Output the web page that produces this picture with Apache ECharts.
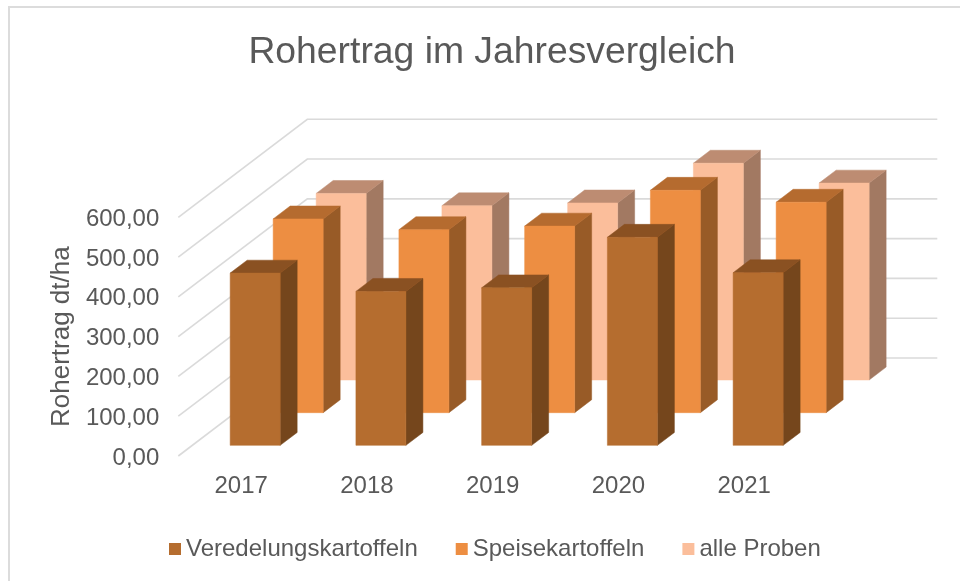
<!DOCTYPE html>
<html>
<head>
<meta charset="utf-8">
<title>Rohertrag im Jahresvergleich</title>
<script src="https://cdn.jsdelivr.net/npm/echarts@6/dist/echarts.min.js"></script>
<style>
  html, body { margin: 0; padding: 0; background: #fff; }
  #chart { width: 960px; height: 581px; }
</style>
</head>
<body>
<div id="chart"></div>
<script>
const categories = ['2017', '2018', '2019', '2020', '2021']
const yTicks = [0, 100, 200, 300, 400, 500, 600]
const veredelung = [433, 387, 396, 523, 434]
const speise = [487, 460, 469, 559, 529]
const alleProben = [469, 438, 445, 545, 495]

const FONT = '"Liberation Sans", Arial, sans-serif'
const TEXT = '#595959'
const SLOPE = 0.76 // fake 3d: how far up per pixel of depth
const DEPTH = 129
const BAR_WIDTH = 50
const BAR_DEPTH = 17

function shift(p, d) {
  return [p[0] + d, p[1] - d * SLOPE]
}

function barItem(rowOffset, colors) {
  return function(params, api) {
    const i = api.value(0)
    const top = api.coord([i, api.value(1)])
    const base = api.coord([i, 0])
    const x0 = top[0] - BAR_WIDTH / 2
    const x1 = top[0] + BAR_WIDTH / 2
    const tl = shift([x0, top[1]], rowOffset)
    const tr = shift([x1, top[1]], rowOffset)
    const bl = shift([x0, base[1]], rowOffset)
    const br = shift([x1, base[1]], rowOffset)
    const poly = function(points, color) {
      return {
        type: 'polygon',
        shape: { points: points },
        style: { fill: color, stroke: color, lineWidth: 0.5 }
      }
    }
    return {
      type: 'group',
      children: [
        poly([tr, shift(tr, BAR_DEPTH), shift(br, BAR_DEPTH), br], colors[1]),
        poly([tl, shift(tl, BAR_DEPTH), shift(tr, BAR_DEPTH), tr], colors[2]),
        poly([tl, tr, br, bl], colors[0])
      ]
    }
  }
}

function wallItem(params, api) {
  const p = api.coord([0, api.value(1)])
  const band = api.size([1, 0])[0]
  const front = [p[0] - band / 2, p[1]]
  const corner = shift(front, DEPTH)
  const end = [corner[0] + band * categories.length + 1.3, corner[1]]
  return {
    type: 'polyline',
    shape: { points: [front, corner, end] },
    style: { fill: 'none', stroke: '#DADADA', lineWidth: 1.6 }
  }
}

function makeBars(name, values, rowOffset, colors, z) {
  return {
    name: name,
    type: 'custom',
    z: z,
    silent: true,
    itemStyle: { color: colors[0] },
    renderItem: barItem(rowOffset, colors),
    data: values.map(function(v, i) { return [i, v] })
  }
}

const chart = echarts.init(document.getElementById('chart'))
chart.setOption({
  animation: false,
  backgroundColor: '#fff',
  textStyle: { fontFamily: FONT },
  title: {
    text: 'Rohertrag im Jahresvergleich',
    left: 487,
    top: 29,
    textAlign: 'center',
    textStyle: { color: TEXT, fontSize: 37.3, fontWeight: 'normal', fontFamily: FONT }
  },
  legend: {
    left: 164,
    top: 532,
    itemWidth: 12,
    itemHeight: 12,
    itemGap: 38,
    icon: 'rect',
    data: ['Veredelungskartoffeln', 'Speisekartoffeln', 'alle Proben'],
    textStyle: { color: TEXT, fontSize: 24, fontFamily: FONT }
  },
  grid: { left: 178.3, right: 153, top: 217.3, bottom: 125 },
  xAxis: {
    type: 'category',
    data: categories,
    axisLine: { show: false },
    axisTick: { show: false },
    axisLabel: { color: TEXT, fontSize: 24, margin: 18, fontFamily: FONT }
  },
  yAxis: {
    type: 'value',
    min: 0,
    max: 600,
    interval: 100,
    name: 'Rohertrag dt/ha',
    nameLocation: 'middle',
    nameGap: 101,
    nameTextStyle: { color: TEXT, fontSize: 26, fontFamily: FONT },
    axisLine: { show: false },
    axisTick: { show: false },
    splitLine: { show: false },
    axisLabel: {
      margin: 19,
      formatter: function(value) {
        return '{tick|' + value.toFixed(2).replace('.', ',') + '}'
      },
      rich: {
        tick: { color: TEXT, fontSize: 24, fontFamily: FONT, padding: [4, 0, 0, 0] }
      }
    }
  },
  graphic: [
    {
      type: 'polyline',
      silent: true,
      shape: { points: [[9, 581], [9, 7], [960, 7]] },
      style: { fill: 'none', stroke: '#DCDCDC', lineWidth: 2 }
    }
  ],
  series: [
    {
      type: 'custom',
      z: 1,
      silent: true,
      renderItem: wallItem,
      data: yTicks.map(function(v) { return [0, v] })
    },
    makeBars('alle Proben', alleProben, 100, ['#FBBE9B', '#A27962', '#BD8C72'], 2),
    makeBars('Speisekartoffeln', speise, 57, ['#ED8E42', '#985B27', '#B56B2F'], 3),
    makeBars('Veredelungskartoffeln', veredelung, 14, ['#B56D2F', '#75461C', '#8A5122'], 4)
  ]
})
</script>
</body>
</html>
